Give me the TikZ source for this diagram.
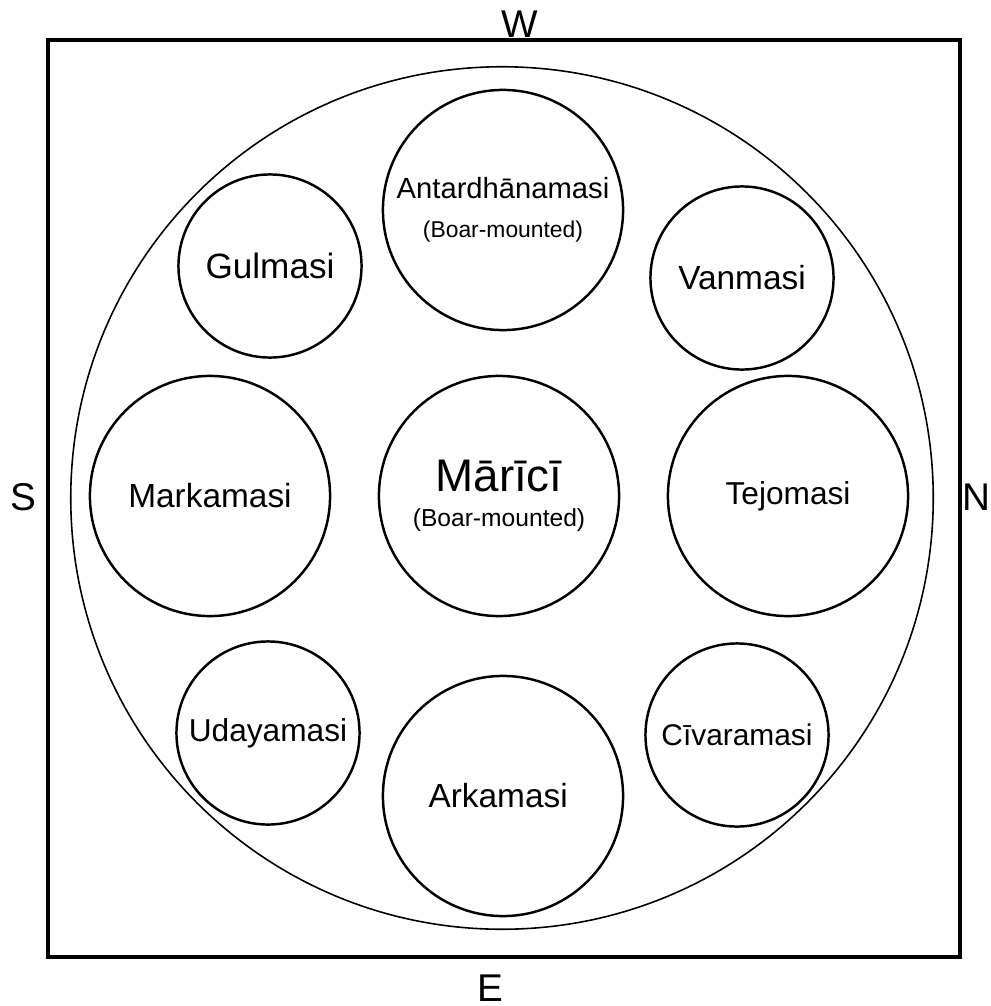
\documentclass[tikz,border=0pt]{standalone}
\usepackage{fontspec}
\setmainfont{Liberation Sans}
\begin{document}
\begin{tikzpicture}[x=0.01cm,y=-0.01cm,
    disc/.style={circle,draw,line width=0.7pt,inner sep=0pt,align=center},
    bigdisc/.style={disc,minimum size=2.4cm},
    smalldisc/.style={disc,minimum size=1.83cm},
    side/.style={inner sep=0pt,font=\fontsize{11}{13}\selectfont}]
   \useasboundingbox (0,0) rectangle (991,1006);
   \draw[line width=1.2pt] (48,40) rectangle (960,957);
   \node[circle,draw,line width=0.45pt,inner sep=0pt,minimum size=8.62cm] (ring) at (502,498) {};
   \foreach \n/\x/\y/\s/\t in
     { antar/503/210/bigdisc/{{\fontsize{8.3}{10}\selectfont Antardhānamasi}\\[-1pt]{\fontsize{6.5}{8}\selectfont(Boar-mounted)}},
       gulma/270/266/smalldisc/{\fontsize{10}{12}\selectfont Gulmasi},
       vanma/742/278/smalldisc/{\fontsize{9.5}{12}\selectfont Vanmasi},
       marka/210/496/bigdisc/{\fontsize{9.5}{12}\selectfont Markamasi},
       marici/499/496/bigdisc/{{\fontsize{13}{15}\selectfont Mārīcī}\\[-2pt]{\fontsize{7}{9}\selectfont(Boar-mounted)}},
       tejo/788/496/bigdisc/{\fontsize{9}{12}\selectfont Tejomasi},
       udaya/268/733/smalldisc/{\fontsize{9}{12}\selectfont Udayamasi},
       civara/737/735/smalldisc/{\fontsize{8.5}{12}\selectfont Cīvaramasi},
       arka/503/796/bigdisc/{\fontsize{9.5}{12}\selectfont Arkamasi}
     }
     \node[\s] (\n) at (\x,\y) {\t};
   \foreach \n/\x/\y/\l in
     { west/520/24/W,
       south/23/497/S,
       north/976/497/N,
       east/490/988/E
     }
     \node[side] (\n) at (\x,\y) {\l};
\end{tikzpicture}
\end{document}
